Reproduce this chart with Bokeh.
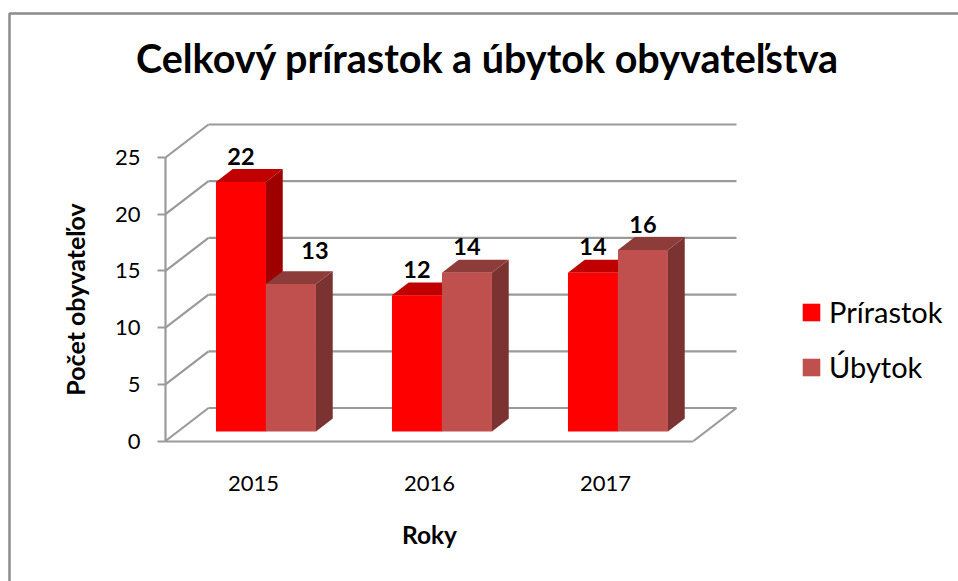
from bokeh.plotting import figure
from bokeh.models import Range1d, LinearAxis, FixedTicker, Label, Legend, LegendItem, ColumnDataSource
from bokeh.core.properties import value
from bokeh.embed import file_html
from bokeh.resources import INLINE

title = "Celkový prírastok a úbytok obyvateľstva"
x_title = "Roky"
y_title = "Počet obyvateľov"
categories = ["2015", "2016", "2017"]
series_names = ["Prírastok", "Úbytok"]
prirastok = [22, 12, 14]
ubytok = [13, 14, 16]
y_ticks = [0, 5, 10, 15, 20, 25]

FONT = "Lato"
W, H = 958, 581
X0_PX, CAT_PX = 165.0, 176.0      # front-left corner, width of one category
Y0_PX, UNIT_PX = 440.5, 11.34     # front baseline, pixels per unit
DX, DY = 43.0 / CAT_PX, 33.0 / UNIT_PX  # depth of the 3D box in data units
BAR_W = 50.0 / CAT_PX
D_FRONT, D_BACK = 0.29, 0.68      # bar position in the box depth
GRID = "#9a9a9a"

def data_x(px):
    return (px - X0_PX) / CAT_PX

def data_y(py):
    return (Y0_PX - py) / UNIT_PX

p = figure(width=W, height=H, min_border=0, outline_line_color=None, toolbar_location=None,
           output_backend="svg", x_axis_location=None, y_axis_location=None,
           x_range=Range1d(data_x(0), data_x(W)),
           y_range=Range1d(data_y(H), data_y(0)))
p.background_fill_color = "white"
p.border_fill_color = "white"
p.grid.visible = False

# chart frame (top and left edges only)
p.line([data_x(W), data_x(9), data_x(9)], [data_y(13), data_y(13), data_y(H)],
       line_color="#8c8c8c", line_width=2.5)

# walls
top = [v + DY for v in y_ticks]
p.segment(x0=[DX] * len(y_ticks), x1=[3 + DX] * len(y_ticks), y0=top, y1=top, line_color=GRID, line_width=2.2)
p.segment(x0=[0] * len(y_ticks), x1=[DX] * len(y_ticks), y0=y_ticks, y1=top, line_color=GRID, line_width=2.2)
p.segment(x0=[3], x1=[3 + DX], y0=[0], y1=[DY], line_color=GRID, line_width=2.2)

# axes
yax = LinearAxis(fixed_location=0, bounds=(0, 25), ticker=FixedTicker(ticks=y_ticks), axis_label=y_title)
yax.axis_line_color = GRID
yax.axis_line_width = 2.2
yax.major_tick_line_color = GRID
yax.major_tick_line_width = 2.2
yax.major_tick_out = 8
yax.major_tick_in = 0
yax.minor_tick_line_color = None
yax.major_label_text_font = FONT
yax.major_label_text_font_size = "22px"
yax.major_label_text_color = "black"
yax.major_label_standoff = 17
yax.axis_label_text_font = FONT
yax.axis_label_text_font_style = "bold"
yax.axis_label_text_font_size = "25px"
yax.axis_label_text_color = "black"
yax.axis_label_standoff = 22
p.add_layout(yax, "left")

xax = LinearAxis(fixed_location=0, bounds=(0, 3), ticker=FixedTicker(ticks=[i + 0.5 for i in range(len(categories))]),
                 major_label_overrides={i + 0.5: c for i, c in enumerate(categories)}, axis_label=x_title)
xax.axis_line_color = GRID
xax.axis_line_width = 2.2
xax.major_tick_line_color = None
xax.minor_tick_line_color = None
xax.major_tick_out = 0
xax.major_tick_in = 0
xax.major_label_text_font = FONT
xax.major_label_text_font_size = "22px"
xax.major_label_text_color = "black"
xax.major_label_standoff = 35
xax.axis_label_text_font = FONT
xax.axis_label_text_font_style = "bold"
xax.axis_label_text_font_size = "24.5px"
xax.axis_label_text_color = "black"
xax.axis_label_standoff = 25
p.add_layout(xax, "below")

# bars
styles = [("#ff0000", "#c00000", "#9e0000"), ("#c0504d", "#8e3c3a", "#7a3331")]
items = []
for s, (vals, name, (front, roof, side)) in enumerate(zip([prirastok, ubytok], series_names, styles)):
    left = [i + 0.5 + DX * D_FRONT + (s - 1) * BAR_W for i in range(len(vals))]
    right = [l + BAR_W for l in left]
    base = DY * D_FRONT
    d = DX * (D_BACK - D_FRONT)
    e = DY * (D_BACK - D_FRONT)
    p.patches([[r, r + d, r + d, r] for r in right],
              [[base, base + e, base + e + v, base + v] for v in vals],
              fill_color=side, line_color=None)
    p.patches([[l, l + d, r + d, r] for l, r in zip(left, right)],
              [[base + v, base + v + e, base + v + e, base + v] for v in vals],
              fill_color=roof, line_color=None)
    r = p.quad(left=left, right=right, bottom=[base] * len(vals), top=[base + v for v in vals],
               fill_color=front, line_color=None)
    items.append(LegendItem(label=name, renderers=[r]))

legend = Legend(items=items, location=(800, 197), orientation="vertical", glyph_width=22, glyph_height=22,
                label_standoff=7, spacing=20, padding=0, margin=0, border_line_color=None,
                background_fill_alpha=0, label_text_font=FONT, label_text_font_size="29px",
                label_text_color="black")
p.add_layout(legend)

# data labels
nudge = {(1, 0): (24, 8)}
lab_x, lab_y, lab_t, off_x, off_y = [], [], [], [], []
for s, vals in enumerate([prirastok, ubytok]):
    for i, v in enumerate(vals):
        lab_x.append(i + 0.5 + DX * D_FRONT + (s - 0.5) * BAR_W)
        lab_y.append(DY * D_BACK + v)
        lab_t.append(str(v))
        nx, ny = nudge.get((s, i), (0, 0))
        off_x.append(nx)
        off_y.append(-13 - ny)
src = ColumnDataSource(dict(x=lab_x, y=lab_y, t=lab_t, ox=off_x, oy=off_y))
p.text(x="x", y="y", text="t", x_offset="ox", y_offset="oy", source=src, text_align="center",
       text_baseline="alphabetic", text_font=value(FONT), text_font_style="bold",
       text_font_size="23.5px", text_color="black")

p.add_layout(Label(x=487, y=H - 57, x_units="screen", y_units="screen", text=title,
                   text_align="center", text_baseline="alphabetic", text_font=FONT,
                   text_font_style="bold", text_font_size="39.5px", text_color="black"))

open("out.html", "w").write(file_html(p, INLINE))
